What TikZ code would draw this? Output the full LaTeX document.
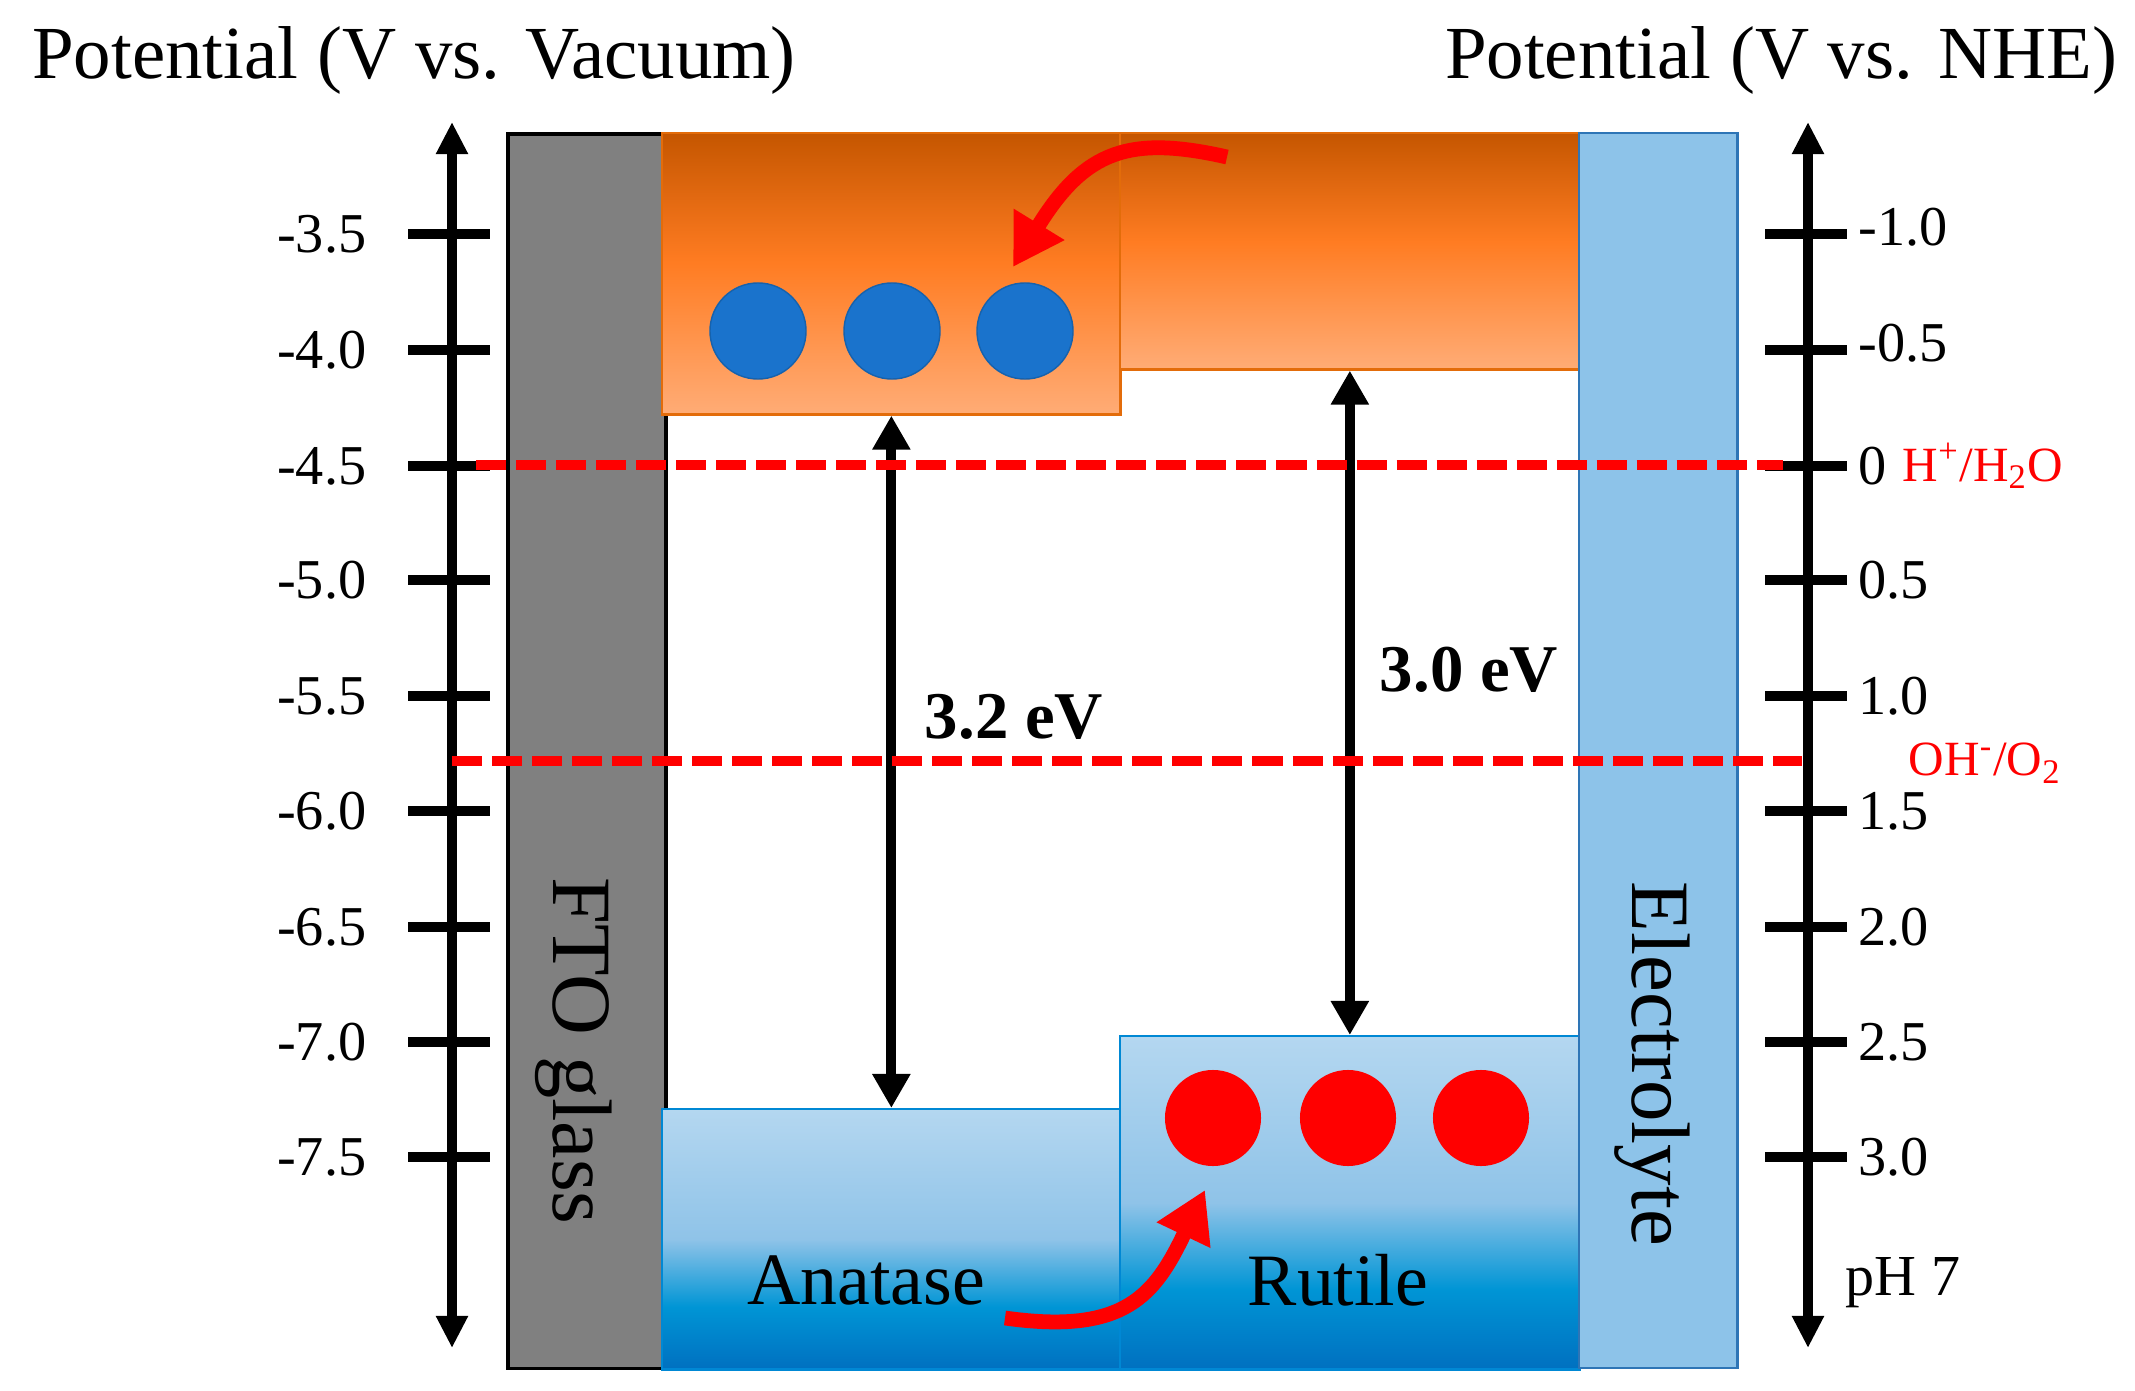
\documentclass[tikz,border=0pt]{standalone}
\usepackage{fontspec}
\setmainfont{Liberation Serif}
\usetikzlibrary{arrows.meta, shapes.geometric}
\definecolor{ftogray}{HTML}{808080}
\definecolor{elecblue}{HTML}{8DC3E9}
\definecolor{elecedge}{HTML}{2E75B6}
\definecolor{cbedge}{HTML}{E36C0A}
\definecolor{vbedge}{HTML}{0088D4}
\definecolor{dotblue}{HTML}{1A73CC}
\definecolor{cblow}{HTML}{FFAC76}
\definecolor{cbmid}{HTML}{FF7C22}
\definecolor{cbhigh}{HTML}{C55600}
\definecolor{vblow}{HTML}{0070C0}
\definecolor{vbnext}{HTML}{0095D5}
\definecolor{vbmid}{HTML}{8FC3E8}
\definecolor{vbhigh}{HTML}{B4D7F0}
\pgfdeclareverticalshading{cbfade}{100bp}{color(0bp)=(cblow); color(25bp)=(cblow);
  color(52bp)=(cbmid); color(75bp)=(cbhigh); color(100bp)=(cbhigh)}
\pgfdeclareverticalshading{vbfade}{100bp}{color(0bp)=(vblow); color(25bp)=(vblow);
  color(37bp)=(vbnext); color(50bp)=(vbmid); color(75bp)=(vbhigh); color(100bp)=(vbhigh)}
\tikzset{
  band/.style={anchor=north west, inner sep=0pt, line width=0.7pt},
  cbband/.style={band, shading=cbfade, draw=cbedge},
  vbband/.style={band, shading=vbfade, draw=vbedge},
  dot/.style={circle, minimum size=0.96cm, inner sep=0pt},
  axisline/.style={line width=2.9pt, {Triangle[width=0.3cm,length=0.32cm]}-{Triangle[width=0.3cm,length=0.32cm]}},
  gapline/.style={line width=2.9pt, {Triangle[width=0.36cm,length=0.34cm]}-{Triangle[width=0.36cm,length=0.34cm]}},
  tickline/.style={line width=2.6pt},
  level/.style={red, line width=2.8pt, dash pattern=on 0.3cm off 0.1cm},
  hop/.style={red, line width=4.2pt, -{Triangle[width=0.56cm,length=0.5cm]}},
  scalelabel/.style={font=\fontsize{16}{19}\selectfont, inner sep=0pt},
  titlelabel/.style={font=\fontsize{21.3}{25}\selectfont, inner sep=0pt},
  redox/.style={red, font=\fontsize{14}{17}\selectfont, inner sep=0pt},
  gaplabel/.style={font=\bfseries\fontsize{19}{22}\selectfont, inner sep=0pt},
  bandlabel/.style={font=\fontsize{21}{25}\selectfont, inner sep=0pt}
}

\begin{document}
\begin{tikzpicture}[x=0.01cm, y=-0.01cm]
    \useasboundingbox (0,0) rectangle (2135,1391);
    % Titles
    \node[titlelabel] (vactitle) at (414,60) {Potential (V vs. Vacuum)};
    \node[titlelabel] (nhetitle) at (1781,60) {Potential (V vs. NHE)};
    % Contact and electrolyte
    \node[band, fill=ftogray, draw=black, line width=1pt, minimum width=1.58cm, minimum height=12.34cm] (fto) at (506,132) {};
    \node[cbband, minimum width=4.58cm, minimum height=2.81cm] (anatasecb) at (661,132) {};
    \node[cbband, minimum width=4.59cm, minimum height=2.36cm] (rutilecb) at (1119,132) {};
    \node[vbband, minimum width=4.58cm, minimum height=2.60cm] (anatasevb) at (661,1108) {};
    \node[vbband, minimum width=4.59cm, minimum height=3.33cm] (rutilevb) at (1119,1035) {};
    \node[band, fill=elecblue, draw=elecedge, minimum width=1.58cm, minimum height=12.34cm] (elec) at (1578,132) {};
    \node[bandlabel, rotate=-90, font=\fontsize{24}{28}\selectfont] (ftolabel) at (574,1051) {FTO glass};
    \node[bandlabel, rotate=-90, font=\fontsize{23.6}{28}\selectfont] (eleclabel) at (1652,1064) {Electrolyte};
    \node[bandlabel] (anataselabel) at (866,1280) {Anatase};
    \node[bandlabel] (rutilelabel) at (1338,1280) {Rutile};
    % Vacuum scale
    \coordinate (vactop) at (452,122);
    \coordinate (vacbottom) at (452,1348);
    \draw[axisline] (vactop) -- (vacbottom);
    \foreach \lab/\ypos in {-3.5/234, -4.0/350, -4.5/466, -5.0/580, -5.5/696, -6.0/811, -6.5/927, -7.0/1042, -7.5/1157} {
        \draw[tickline] (408,\ypos) -- (490,\ypos);
        \node[scalelabel, anchor=east] (vac\ypos) at (367,\ypos) {\lab};
    }
    % NHE scale
    \coordinate (nhetop) at (1808,122);
    \coordinate (nhebottom) at (1808,1348);
    \draw[axisline] (nhetop) -- (nhebottom);
    \foreach \lab/\ypos/\ylab in {-1.0/234/227, -0.5/350/343, 0/466/466, 0.5/580/580, 1.0/696/696, 1.5/811/811, 2.0/927/927, 2.5/1042/1042, 3.0/1157/1157} {
        \draw[tickline] (1765,\ypos) -- (1847,\ypos);
        \node[scalelabel, anchor=west] (nhe\ypos) at (1858,\ylab) {\lab};
    }
    \node[scalelabel, anchor=west, font=\fontsize{16.5}{19}\selectfont] (phlabel) at (1845,1283) {pH 7};
    % Band gaps
    \draw[gapline] (anatasecb.south) -- (anatasevb.north);
    \draw[gapline] (rutilecb.south) -- (rutilevb.north);
    \node[gaplabel] (anatasegap) at (1014,717) {3.2 eV};
    \node[gaplabel] (rutilegap) at (1469,670) {3.0 eV};
    % Carriers
    \foreach \name/\xpos in {ea/758, eb/892, ec/1025} {
        \node[dot, fill=dotblue, draw=dotblue!85!black] (\name) at (\xpos,331) {};
    }
    \foreach \name/\xpos in {ha/1213, hb/1348, hc/1481} {
        \node[dot, fill=red] (\name) at (\xpos,1118) {};
    }
    % Transfer arrows
    \coordinate (etail) at (1227,157);
    \coordinate (etip) at (1013,267);
    \coordinate (htail) at (1005,1318);
    \coordinate (htip) at (1205,1190);
    \draw[hop] (etail) .. controls (1130,135) and (1085,150) .. (etip);
    \draw[hop] (htail) .. controls (1125,1335) and (1155,1295) .. (htip);
    % Redox levels
    \coordinate (hstart) at (476,465);
    \coordinate (hend) at (1783,465);
    \coordinate (ostart) at (452,761);
    \coordinate (oend) at (1802,761);
    \draw[level] (hstart) -- (hend);
    \draw[level] (ostart) -- (oend);
    \node[redox] (hlabel) at (1983,466) {H\textsuperscript{+}/H\textsubscript{2}O};
    \node[redox] (olabel) at (1985,763) {OH\textsuperscript{-}/O\textsubscript{2}};
\end{tikzpicture}
\end{document}
